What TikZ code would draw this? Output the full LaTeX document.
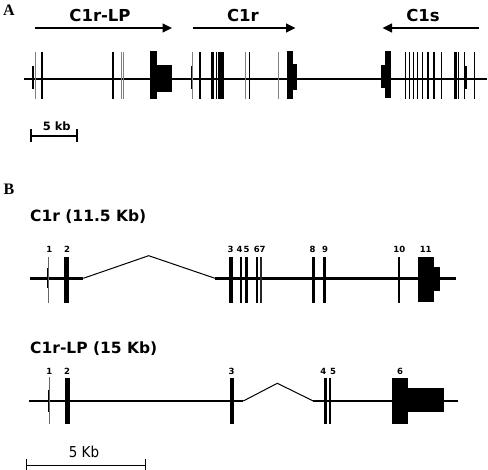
\documentclass[tikz,border=0pt]{standalone}
\usepackage{fontspec}
\setmainfont{DejaVu Sans}
\newfontfamily\labserif{Liberation Serif}
\newfontfamily\condsans{DejaVu Sans}[FakeStretch=0.9]
\usetikzlibrary{arrows.meta}
\begin{document}
\begin{tikzpicture}[x=1pt,y=-1pt,
  panel/.style={font=\labserif\fontsize{16}{16}\bfseries\selectfont, anchor=base, inner sep=0pt},
  genettl/.style={font=\fontsize{16.5}{16.5}\bfseries\selectfont, anchor=base, inner sep=0pt},
  rowttl/.style={font=\fontsize{15.5}{15.5}\bfseries\selectfont, anchor=base west, inner sep=0pt},
  exlab/.style={font=\fontsize{8.5}{8.5}\bfseries\selectfont, anchor=base, inner sep=0pt},
  sclab/.style={font=\fontsize{11.5}{11.5}\bfseries\selectfont, anchor=base, inner sep=0pt},
  sclabB/.style={font=\condsans\fontsize{15}{15}\selectfont, anchor=base, inner sep=0pt},
  genearrow/.style={line width=1.3pt, -{Triangle[length=9.5pt,width=9pt]}},
  axisA/.style={line width=2.6pt},
  axisB/.style={line width=2.5pt},
  intron/.style={line width=1pt},
  scalebar/.style={line width=1.6pt},
  scalebarB/.style={line width=0.8pt}
]
\useasboundingbox (0,0) rectangle (488,470);

% ---------------- Panel A ----------------
\node[panel] (labA) at (9,16) {A};
\node[genettl] (tLP) at (100,21.7) {C1r-LP};
\node[genettl] (tR)  at (243,21.7) {C1r};
\node[genettl] (tS)  at (423,21.7) {C1s};
\coordinate (lpS) at (34.5,28); \coordinate (lpE) at (172,28);
\coordinate (rS) at (192.5,28); \coordinate (rE) at (295.5,28);
\coordinate (sS) at (479,28); \coordinate (sE) at (382.5,28);
\draw[genearrow] (lpS) -- (lpE);
\draw[genearrow] (rS) -- (rE);
\draw[genearrow] (sS) -- (sE);

\coordinate (aL) at (24,79); \coordinate (aR) at (487,79);
\draw[axisA] (aL) -- (aR);

\foreach \x/\w/\c in {35/0.9/gray, 42/2.2/black, 112.7/1.8/black, 121.7/0.9/gray, 123.7/0.9/gray,
  192.7/0.9/gray, 199.7/2.2/black, 212/1.2/black, 213.6/1.6/black, 216.7/1.4/black, 218.9/1.4/black,
  221/1.6/black, 223.3/2.2/black, 245/1.0/gray, 249.3/1.2/black, 278.7/1.0/gray,
  405.7/1.2/black, 409.3/1.2/black, 413.7/1.2/black, 417.7/1.2/black, 422.7/1.2/black, 428/1.6/black,
  434/1.8/black, 441.7/1.2/black, 454.3/1.2/black, 456.3/1.8/black, 458.7/1.2/black, 464.3/1.2/black,
  474.7/1.2/black}
  \draw[line width=\w pt, \c] (\x,52) -- (\x,99);
\foreach \x/\w in {33.3/2, 191.7/1.5, 466/2}
  \draw[line width=\w pt] (\x,66) -- (\x,89);

\fill (150,51) rectangle (156.7,99);
\fill (156.5,65) rectangle (172,91.7);
\fill (287.3,51) rectangle (292.7,99);
\fill (292.5,64) rectangle (296.7,90);
\fill (385.3,50.7) rectangle (390.7,98);
\fill (381.3,65) rectangle (385.5,88);

\node[sclab] (sA) at (56.7,130.7) {5 kb};
\coordinate (sAl) at (30.7,136); \coordinate (sAr) at (77,136);
\draw[scalebar] (sAl) -- (sAr);
\draw[scalebar] (30.7,129.5) -- (30.7,142.5);
\draw[scalebar] (77,129.5) -- (77,142.5);

% ---------------- Panel B ----------------
\node[panel] (labB) at (9,195) {B};

% C1r
\node[rowttl] (tB1) at (30,221.7) {C1r (11.5 Kb)};
\coordinate (r0) at (30,278.3); \coordinate (r1) at (83.3,278.3);
\coordinate (rpk) at (148.7,255.7);
\coordinate (r2) at (215,278.3); \coordinate (r3) at (455.5,278.3);
\draw[axisB] (r0) -- (r1);
\draw[intron] (r1) -- (rpk) -- (r2);
\draw[axisB] (r2) -- (r3);

\draw[line width=0.7pt, gray!80!black] (48.3,256.7) -- (48.3,303.3);
\draw[line width=1.4pt] (47.3,268) -- (47.3,288);
\fill (64,256.7) rectangle (69.3,302.7);
\fill (228.5,256.7) rectangle (232.5,302.7);
\fill (239.5,256.7) rectangle (241.7,302.7);
\fill (245,256.7) rectangle (247.7,302.7);
\fill (255.5,256.7) rectangle (257.6,302.7);
\fill[black!85] (259.8,256.7) rectangle (261.8,302.7);
\fill (312.3,256.7) rectangle (314.5,302.7);
\fill (323.4,256.7) rectangle (326,302.7);
\fill (398.4,256.7) rectangle (400.4,302.7);
\fill (418.3,256.7) rectangle (433.5,302.3);
\fill (433.3,267.3) rectangle (440,291);

\foreach \x/\t [count=\i] in {49.3/1, 67/2, 230.7/3, 239.5/4, 246.7/5, 256.8/6, 262.5/7, 312.7/8, 325/9, 399.3/10, 425.7/11}
  \node[exlab] (eR\i) at (\x,252.3) {\t};

% C1r-LP
\node[rowttl] (tB2) at (30,353.3) {C1r-LP (15 Kb)};
\coordinate (l0) at (29.3,401); \coordinate (l1) at (243.3,401);
\coordinate (lpk) at (277.3,383.3);
\coordinate (l2) at (313.3,401); \coordinate (l3) at (458.3,401);
\draw[axisB] (l0) -- (l1);
\draw[intron] (l1) -- (lpk) -- (l2);
\draw[axisB] (l2) -- (l3);

\draw[line width=0.7pt, gray!80!black] (49.3,377.3) -- (49.3,424);
\draw[line width=1.4pt] (48.3,390) -- (48.3,411.7);
\fill (65,377.7) rectangle (70,424);
\fill (230,377.7) rectangle (234,424);
\fill (324.3,377.7) rectangle (326.7,424);
\fill (328.7,377.7) rectangle (331,424);
\fill (391.7,377.7) rectangle (407.5,424);
\fill (407.3,388.3) rectangle (444,411.7);

\foreach \x/\t [count=\i] in {49.3/1, 67/2, 231.7/3, 323.3/4, 333/5, 400/6}
  \node[exlab] (eL\i) at (\x,374.3) {\t};

\node[sclabB] (sB) at (84,457.7) {5 Kb};
\coordinate (sBl) at (26,465); \coordinate (sBr) at (145.7,465);
\draw[scalebarB] (sBl) -- (sBr);
\draw[scalebarB] (26,459.5) -- (26,470);
\draw[scalebarB] (145.7,459.5) -- (145.7,470);
\end{tikzpicture}
\end{document}
